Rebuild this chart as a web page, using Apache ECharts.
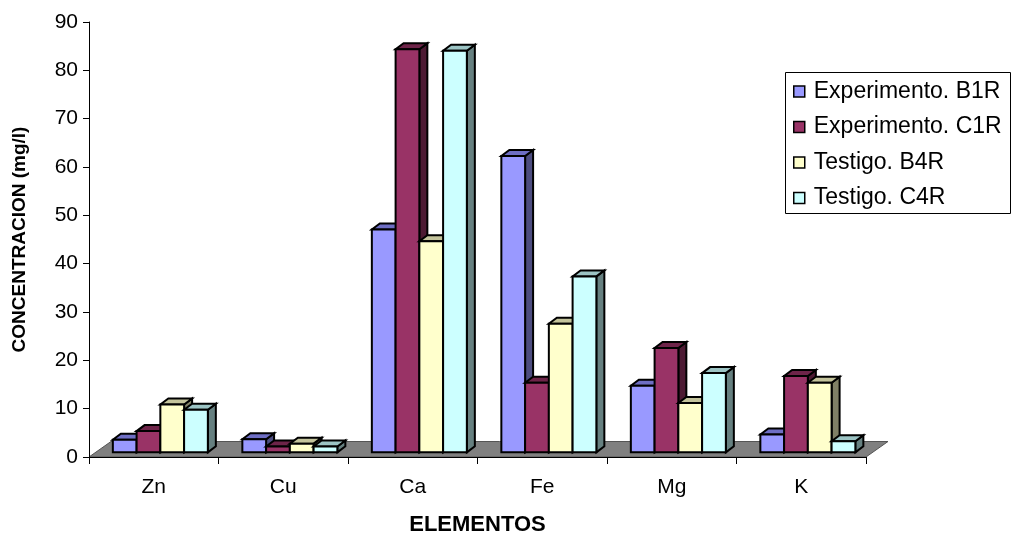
<!DOCTYPE html>
<html>
<head>
<meta charset="utf-8">
<script src="https://cdn.jsdelivr.net/npm/echarts@6/dist/echarts.min.js"></script>
<style>
  html, body { margin: 0; padding: 0; background: #fff; }
  #chart { width: 1012px; height: 535px; }
</style>
</head>
<body>
<div id="chart"></div>
<script>
// Element concentrations (mg/l) for each sample
const categories = ['Zn', 'Cu', 'Ca', 'Fe', 'Mg', 'K'];
const seriesNames = ['Experimento. B1R', 'Experimento. C1R', 'Testigo. B4R', 'Testigo. C4R'];
const expB1R = [2.6, 2.7, 46.1, 61.3, 13.8, 3.7];
const expC1R = [4.4, 1.2, 83.4, 14.4, 21.6, 15.8];
const tesB4R = [9.9, 1.8, 43.7, 26.6, 10.2, 14.4];
const tesC4R = [8.8, 1.2, 83.1, 36.4, 16.4, 2.3];
const yMin = 0, yMax = 90, yStep = 10;

// front / top / side shades of each column
const faces = [
  { front: '#9999FF', top: '#6E6EC4', side: '#4D4D80' },
  { front: '#993366', top: '#6E2449', side: '#4D1A33' },
  { front: '#FFFFCC', top: '#C4C49C', side: '#808066' },
  { front: '#CCFFFF', top: '#9CC4C4', side: '#668080' }
];

const FLOOR_DX = 22, FLOOR_DY = -15.5;   // depth of the floor plate
const BAR_DX = 8, BAR_DY = -6;           // depth of each column
const BAR_DEPTH_POS = 0.3;               // columns stand partway back on the floor
const BAR_FRACTION = 0.1834;             // column width as a share of the category band

function barRenderer(idx) {
  const f = faces[idx];
  return function (params, api) {
    const cat = api.value(0);
    const val = api.value(1);
    const base = api.coord([cat, 0]);
    const top = api.coord([cat, val]);
    const band = api.size([1, 0])[0];
    const w = band * BAR_FRACTION;
    const sx = FLOOR_DX * BAR_DEPTH_POS, sy = FLOOR_DY * BAR_DEPTH_POS;
    const x0 = base[0] - 2 * w + idx * w + sx;
    const x1 = x0 + w;
    const yb = base[1] + sy;
    const yt = top[1] + sy;
    const stroke = { stroke: '#000', lineWidth: 2, lineJoin: 'miter' };
    return {
      type: 'group',
      children: [
        { type: 'polygon', shape: { points: [[x1, yb], [x1 + BAR_DX, yb + BAR_DY], [x1 + BAR_DX, yt + BAR_DY], [x1, yt]] },
          style: Object.assign({ fill: f.side }, stroke) },
        { type: 'polygon', shape: { points: [[x0, yt], [x1, yt], [x1 + BAR_DX, yt + BAR_DY], [x0 + BAR_DX, yt + BAR_DY]] },
          style: Object.assign({ fill: f.top }, stroke) },
        { type: 'polygon', shape: { points: [[x0, yb], [x1, yb], [x1, yt], [x0, yt]] },
          style: Object.assign({ fill: f.front }, stroke) }
      ]
    };
  };
}

function floorRenderer(params, api) {
  const p = api.coord([0, 0]);
  const band = api.size([1, 0])[0];
  const xl = p[0] - band / 2;
  const xr = xl + band * categories.length;
  const y = p[1];
  return {
    type: 'polygon',
    shape: { points: [[xl, y], [xr, y], [xr + FLOOR_DX, y + FLOOR_DY], [xl + FLOOR_DX, y + FLOOR_DY]] },
    style: { fill: '#808080', stroke: '#555', lineWidth: 1 }
  };
}

const values = [expB1R, expC1R, tesB4R, tesC4R];
const series = [{
  type: 'custom',
  name: 'floor',
  renderItem: floorRenderer,
  data: [[0, 0]],
  z: 1,
  silent: true
}];
values.forEach(function (arr, i) {
  series.push({
    type: 'custom',
    name: seriesNames[i],
    renderItem: barRenderer(i),
    itemStyle: { color: faces[i].front },
    data: arr.map(function (v, k) { return [k, v]; }),
    z: 2 + i
  });
});

const font = 'Liberation Sans, Arial, sans-serif';
const chart = echarts.init(document.getElementById('chart'), null, { renderer: 'canvas' });
chart.setOption({
  animation: false,
  backgroundColor: '#fff',
  color: faces.map(function (f) { return f.front; }),
  grid: { left: 89, right: 146, top: 22, bottom: 78, containLabel: false, outerBoundsMode: 'none' },
  xAxis: {
    type: 'category',
    data: categories,
    boundaryGap: true,
    name: 'ELEMENTOS',
    nameLocation: 'middle',
    nameGap: 57,
    nameTextStyle: { fontFamily: font, fontSize: 22, fontWeight: 'bold', color: '#000' },
    axisLine: { show: true, lineStyle: { color: '#000', width: 1 } },
    axisTick: { show: true, length: 7, interval: 0, lineStyle: { color: '#000' } },
    axisLabel: { fontFamily: font, fontSize: 21, color: '#000', margin: 20, interval: 0 },
    splitLine: { show: false },
    z: 20
  },
  yAxis: {
    type: 'value',
    min: yMin, max: yMax, interval: yStep,
    name: 'CONCENTRACION (mg/l)',
    nameLocation: 'middle',
    nameRotate: 90,
    nameGap: 60,
    nameTextStyle: { fontFamily: font, fontSize: 19, fontWeight: 'bold', color: '#000' },
    axisLine: { show: true, lineStyle: { color: '#000', width: 1 } },
    axisTick: { show: true, length: 6, lineStyle: { color: '#000' } },
    axisLabel: { fontFamily: font, fontSize: 21, color: '#000', margin: 11 },
    splitLine: { show: false },
    z: 20
  },
  legend: {
    data: seriesNames,
    orient: 'vertical',
    left: 785,
    top: 79,
    padding: [0, 0, 0, 8],
    icon: 'rect',
    itemWidth: 11,
    itemHeight: 11,
    itemGap: 10.5,
    itemStyle: { borderColor: '#000', borderWidth: 1.5 },
    textStyle: { fontFamily: font, fontSize: 23, color: '#000', lineHeight: 25, padding: [0, 0, 0, 4] },
    selectedMode: false
  },
  graphic: [{
    type: 'rect',
    shape: { x: 785.5, y: 72.5, width: 225, height: 141 },
    style: { fill: null, stroke: '#000', lineWidth: 1 },
    z: 100
  }],
  series: series
});
</script>
</body>
</html>
